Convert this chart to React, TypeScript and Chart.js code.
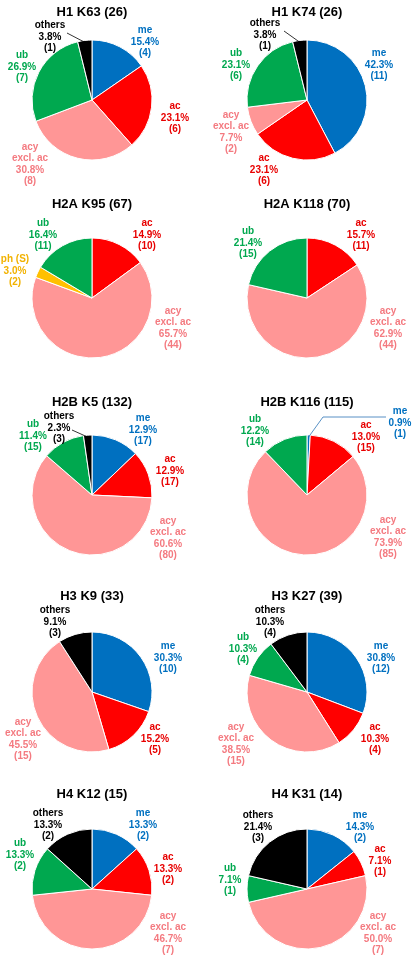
import React, { useEffect, useRef } from 'react';
import { Chart, registerables } from 'chart.js';

Chart.register(...registerables);
Chart.defaults.font.family = '"Liberation Sans", Arial, sans-serif';

// ---------- data ----------
const titles = [
  'H1 K63 (26)', 'H1 K74 (26)',
  'H2A K95 (67)', 'H2A K118 (70)',
  'H2B K5 (132)', 'H2B K116 (115)',
  'H3 K9 (33)', 'H3 K27 (39)',
  'H4 K12 (15)', 'H4 K31 (14)',
];
const categories = ['me', 'ac', 'acy excl. ac', 'ph (S)', 'ub', 'others'];
const meCounts = [4, 11, 0, 0, 17, 1, 10, 12, 2, 2];
const acCounts = [6, 6, 10, 11, 17, 15, 5, 4, 2, 1];
const acyCounts = [8, 2, 44, 44, 80, 85, 15, 15, 7, 7];
const phCounts = [0, 0, 2, 0, 0, 0, 0, 0, 0, 0];
const ubCounts = [7, 6, 11, 15, 15, 14, 0, 4, 2, 1];
const othersCounts = [1, 1, 0, 0, 3, 0, 3, 4, 2, 3];

// ---------- styles ----------
const sliceColors = ['#0070C0', '#FF0000', '#FF9696', '#FFC000', '#00A84F', '#000000'];
const textColors = ['#0070C0', '#E80000', '#F47A80', '#F2B200', '#00A84F', '#000000'];
const R = 60;
const BORDER = 1;
const BOTTOM_PAD = 30;
const LH = 11.5;
const colLeft = [0, 208];
const colCx = [92, 99];
const rowTitleY = [13, 205, 403, 597, 795];
const rowCy = [100, 298, 495, 692, 889];

// label block centre offsets relative to pie centre (px at radius 60)
type Off = [number, number] | null;
const labelOffsets: Off[][] = [
  [[53, -58], [83, 18], [-62, 64], null, [-70, -33], [-42, -63]],
  [[72, -35], [-43, 70], [-76, 32], null, [-71, -35], [-42, -65]],
  [null, [55, -63], [81, 30], [-77, -27], [-49, -63], null],
  [null, [54, -63], [81, 30], null, [-59, -55], null],
  [[51, -65], [78, -24], [76, 43], null, [-59, -59], [-33, -67]],
  [[93, -72], [59, -58], [81, 42], null, [-52, -64], null],
  [[76, -34], [63, 47], [-69, 47], null, null, [-37, -70]],
  [[74, -34], [68, 47], [-71, 52], null, [-64, -43], [-37, -70]],
  [[51, -64], [76, -20], [76, 44], null, [-72, -34], [-44, -64]],
  [[53, -62], [73, -28], [71, 44], null, [-77, -9], [-49, -62]],
];

// leader lines: start relative to label centre, optional elbow x relative to pie centre
const leaders = [
  { chart: 0, cat: 5, from: [17, -4], color: '#000000' },
  { chart: 1, cat: 5, from: [19, -4], color: '#000000' },
  { chart: 4, cat: 5, from: [13, 2], color: '#000000' },
  { chart: 5, cat: 0, from: [-14, -6], elbowX: 16, color: '#2E75B6' },
];

const splitName = (name: string) => (name === 'acy excl. ac' ? ['acy', 'excl. ac'] : [name]);

const labelPlugin = {
  id: 'pieLabels',
  afterDraw(chart: any, _args: any, opts: any) {
    const meta = chart.getDatasetMeta(0);
    const ctx = chart.ctx;
    const data = chart.data.datasets[0].data as number[];
    meta.data.forEach((arc: any, j: number) => {
      const k = opts.keep[j];
      const off = labelOffsets[opts.chartIndex][k];
      if (!off) return;
      const { x, y, outerRadius, startAngle, endAngle } = arc.getProps(
        ['x', 'y', 'outerRadius', 'startAngle', 'endAngle'],
        true
      );
      const s = outerRadius / R;
      const lx = x + off[0] * s;
      const ly = y + off[1] * s;
      const value = data[j];
      const pct = ((value / opts.total) * 100).toFixed(1) + '%';
      const lines = [...splitName(categories[k]), pct, `(${value})`];
      ctx.save();
      ctx.font = 'bold 10px "Liberation Sans", Arial, sans-serif';
      ctx.fillStyle = textColors[k];
      ctx.textAlign = 'center';
      ctx.textBaseline = 'middle';
      const y0 = ly - ((lines.length - 1) * LH) / 2;
      lines.forEach((t, i) => ctx.fillText(t, lx, y0 + i * LH));

      const leader = leaders.find((l) => l.chart === opts.chartIndex && l.cat === k);
      if (leader) {
        const mid = (startAngle + endAngle) / 2;
        const ex = x + Math.cos(mid) * (outerRadius - 2);
        const ey = y + Math.sin(mid) * (outerRadius - 2);
        const sx = lx + leader.from[0];
        const sy = ly + leader.from[1];
        ctx.strokeStyle = leader.color;
        ctx.lineWidth = 0.8;
        ctx.beginPath();
        ctx.moveTo(sx, sy);
        if (leader.elbowX !== undefined) ctx.lineTo(x + leader.elbowX * s, sy);
        ctx.lineTo(ex, ey);
        ctx.stroke();
      }
      ctx.restore();
    });
  },
};

function PiePanel({ idx }: { idx: number }) {
  const ref = useRef<HTMLCanvasElement>(null);
  const row = Math.floor(idx / 2);
  const col = idx % 2;
  const top = rowTitleY[row] - 10;
  const chartTop = rowCy[row] - R - BORDER / 2 - top;
  const H = Math.round(chartTop + 2 * R + BORDER + BOTTOM_PAD);

  useEffect(() => {
    if (!ref.current) return;
    const counts = [
      meCounts[idx], acCounts[idx], acyCounts[idx],
      phCounts[idx], ubCounts[idx], othersCounts[idx],
    ];
    const total = counts.reduce((a, b) => a + b, 0);
    const keep = counts.map((c, k) => (c > 0 ? k : -1)).filter((k) => k >= 0);
    const chart = new Chart(ref.current, {
      type: 'pie',
      data: {
        labels: keep.map((k) => categories[k]),
        datasets: [
          {
            data: keep.map((k) => counts[k]),
            backgroundColor: keep.map((k) => sliceColors[k]),
            borderColor: '#ffffff',
            borderWidth: BORDER,
          },
        ],
      },
      options: {
        responsive: false,
        animation: false,
        events: [],
        layout: {
          padding: {
            left: colCx[col] - R - BORDER / 2,
            right: 208 - colCx[col] - R - BORDER / 2,
            top: 0,
            bottom: H - (chartTop + 2 * R + BORDER),
          },
        },
        plugins: {
          legend: { display: false },
          tooltip: { enabled: false },
          title: {
            display: true,
            text: titles[idx],
            color: '#000000',
            font: { size: 13, weight: 'bold', lineHeight: 1.2 },
            padding: { top: 2, bottom: chartTop - 2 - 15.6 },
          },
          pieLabels: { chartIndex: idx, keep, total },
        } as any,
      },
      plugins: [labelPlugin],
    });
    return () => chart.destroy();
  }, [idx]);

  return (
    <canvas
      ref={ref}
      width={208}
      height={H}
      style={{ position: 'absolute', left: colLeft[col], top, width: 208, height: H }}
    />
  );
}

export default function App() {
  return (
    <div
      style={{
        position: 'absolute',
        left: 0,
        top: 0,
        width: 416,
        height: 966,
        background: '#ffffff',
        overflow: 'hidden',
      }}
    >
      {titles.map((_, i) => (
        <PiePanel key={i} idx={i} />
      ))}
    </div>
  );
}
